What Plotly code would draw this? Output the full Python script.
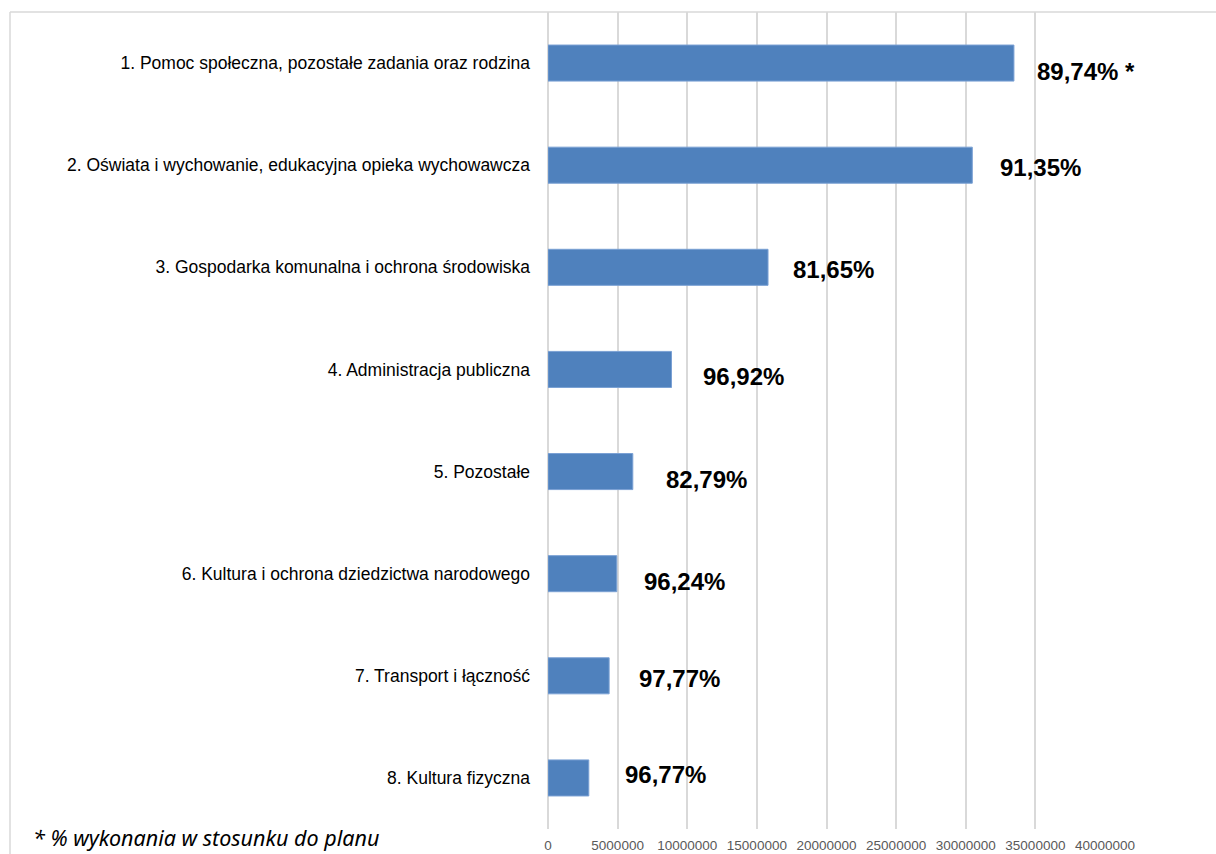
import plotly.graph_objects as go

categories = [
    "1. Pomoc społeczna, pozostałe zadania oraz rodzina",
    "2. Oświata i wychowanie, edukacyjna opieka wychowawcza",
    "3. Gospodarka komunalna i ochrona środowiska",
    "4. Administracja publiczna",
    "5. Pozostałe",
    "6. Kultura i ochrona dziedzictwa narodowego",
    "7. Transport i łączność",
    "8. Kultura fizyczna",
]
values = [33460000, 30470000, 15800000, 8870000, 6090000, 4940000, 4390000, 2930000]
pct_labels = ["89,74% *", "91,35%", "81,65%", "96,92%", "82,79%", "96,24%", "97,77%", "96,77%"]
x_ticks = [0, 5000000, 10000000, 15000000, 20000000, 25000000, 30000000, 35000000, 40000000]
footnote = "* % wykonania w stosunku do planu"

# label placement tweaks (pixels): horizontal gap from bar end, vertical drop
label_dx = [21, 26, 23, 29, 31, 25, 28, 34]
label_dy = [8, 2, 2, 7, 8, 8, 3, -3]

W, H = 1216, 854
L, R, T, B = 548, 1105, 12, 829

def px(x):
    return (x - L) / (R - L)

def py(y):
    return (B - y) / (B - T)

SANS = "Liberation Sans, Arial, sans-serif"

fig = go.Figure()
fig.add_trace(go.Bar(
    x=values,
    y=categories,
    orientation="h",
    marker=dict(color="#4f81bd", line=dict(color="#7aa0d4", width=1)),
    hoverinfo="x+y",
))

annotations = []
for c, v, t, dx, dy in zip(categories, values, pct_labels, label_dx, label_dy):
    annotations.append(dict(
        x=v, y=c, xref="x", yref="y", text="<b>" + t + "</b>",
        showarrow=False, xanchor="left", yanchor="middle",
        xshift=dx, yshift=-dy,
        font=dict(family=SANS, size=24, color="#000000"),
    ))
annotations.append(dict(
    x=px(31), y=py(837), xref="paper", yref="paper", text="<i>" + footnote + "</i>",
    showarrow=False, xanchor="left", yanchor="middle",
    font=dict(family="Noto Sans, Open Sans, sans-serif", size=21.5, color="#000000"),
))

shapes = [
    dict(type="line", xref="paper", yref="paper", x0=px(10), x1=px(10), y0=py(12), y1=py(860),
         line=dict(color="#d9d9d9", width=1.5)),
    dict(type="line", xref="paper", yref="paper", x0=px(10), x1=px(1220), y0=py(12), y1=py(12),
         line=dict(color="#d9d9d9", width=1.5)),
]

fig.update_layout(
    width=W, height=H,
    margin=dict(l=L, r=W - R, t=T, b=H - B, pad=0, autoexpand=False),
    paper_bgcolor="#ffffff", plot_bgcolor="#ffffff",
    bargap=0.647,
    showlegend=False,
    annotations=annotations,
    shapes=shapes,
    xaxis=dict(
        range=[0, 40000000], tickvals=x_ticks, ticktext=[str(v) for v in x_ticks],
        showgrid=True, gridcolor="#d9d9d9", gridwidth=1.5,
        zeroline=True, zerolinecolor="#d9d9d9", zerolinewidth=1.5,
        showline=False, ticks="", ticklabelstandoff=6, automargin=False,
        tickfont=dict(family=SANS, size=13.5, color="#595959"),
        fixedrange=True,
    ),
    yaxis=dict(
        categoryorder="array", categoryarray=categories, autorange="reversed",
        showgrid=False, zeroline=False, showline=False, ticks="",
        ticklabelstandoff=17, automargin=False,
        tickfont=dict(family=SANS, size=17.5, color="#000000"),
        fixedrange=True,
    ),
)

fig.write_html(
    "out.html",
    config={"displayModeBar": False},
    post_script="document.body.style.margin='0';document.body.style.overflow='hidden';",
)
